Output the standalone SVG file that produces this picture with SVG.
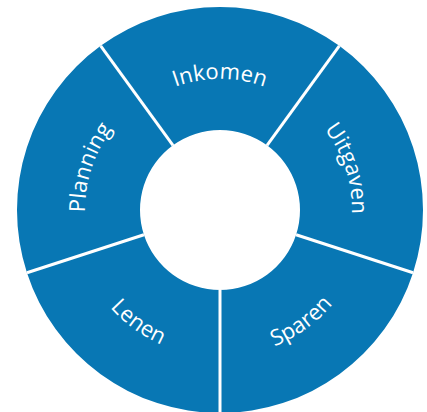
<svg xmlns="http://www.w3.org/2000/svg" width="427" height="412" viewBox="0 0 427 412">
<style>
.seg{fill:#0877b4;}
.lbl{fill:#ffffff;font-family:"Open Sans","Noto Sans","Liberation Sans",sans-serif;font-size:22px;font-weight:500;letter-spacing:0.1px;}
.div{stroke:#ffffff;stroke-width:3;fill:none;}
</style>
<defs>
<path id="pInkomen" d="M89,210 A131 131 0 0 1 351,210"/>
<path id="pPlanning" d="M85,210 A135 135 0 0 1 355,210" transform="rotate(-72 220 210)"/>
<path id="pUitgaven" d="M88,210 A132 132 0 0 1 352,210" transform="rotate(72 220 210)"/>
<path id="pLenen" d="M100.27,123.01 A148 148 0 0 0 339.73,296.99"/>
<path id="pSparen" d="M100.27,296.99 A148 148 0 0 0 339.73,123.01"/>
</defs>
<rect width="427" height="412" fill="#ffffff"/>
<g id="inkomen">
<path class="seg" d="M100.68,45.77 A203 203 0 0 1 339.32,45.77 L267.02,145.28 A80 80 0 0 0 172.98,145.28 Z"/>
<text class="lbl"><textPath href="#pInkomen" startOffset="50%" text-anchor="middle">Inkomen</textPath></text>
</g>
<g id="uitgaven">
<path class="seg" d="M339.32,45.77 A203 203 0 0 1 413.07,272.73 L296.09,234.72 A80 80 0 0 0 267.02,145.28 Z"/>
<text class="lbl"><textPath href="#pUitgaven" startOffset="50%" text-anchor="middle">Uitgaven</textPath></text>
</g>
<g id="sparen">
<path class="seg" d="M413.07,272.73 A203 203 0 0 1 220,413 L220,290 A80 80 0 0 0 296.09,234.72 Z"/>
<text class="lbl"><textPath href="#pSparen" startOffset="50%" text-anchor="middle">Sparen</textPath></text>
</g>
<g id="lenen">
<path class="seg" d="M220,413 A203 203 0 0 1 26.93,272.73 L143.91,234.72 A80 80 0 0 0 220,290 Z"/>
<text class="lbl"><textPath href="#pLenen" startOffset="50%" text-anchor="middle">Lenen</textPath></text>
</g>
<g id="planning">
<path class="seg" d="M26.93,272.73 A203 203 0 0 1 100.68,45.77 L172.98,145.28 A80 80 0 0 0 143.91,234.72 Z"/>
<text class="lbl"><textPath href="#pPlanning" startOffset="50%" text-anchor="middle">Planning</textPath></text>
</g>
<g id="dividers">
<line class="div" x1="172.98" y1="145.28" x2="100.68" y2="45.77"/>
<line class="div" x1="267.02" y1="145.28" x2="339.32" y2="45.77"/>
<line class="div" x1="296.09" y1="234.72" x2="413.07" y2="272.73"/>
<line class="div" x1="220" y1="290" x2="220" y2="413"/>
<line class="div" x1="143.91" y1="234.72" x2="26.93" y2="272.73"/>
</g>
</svg>
